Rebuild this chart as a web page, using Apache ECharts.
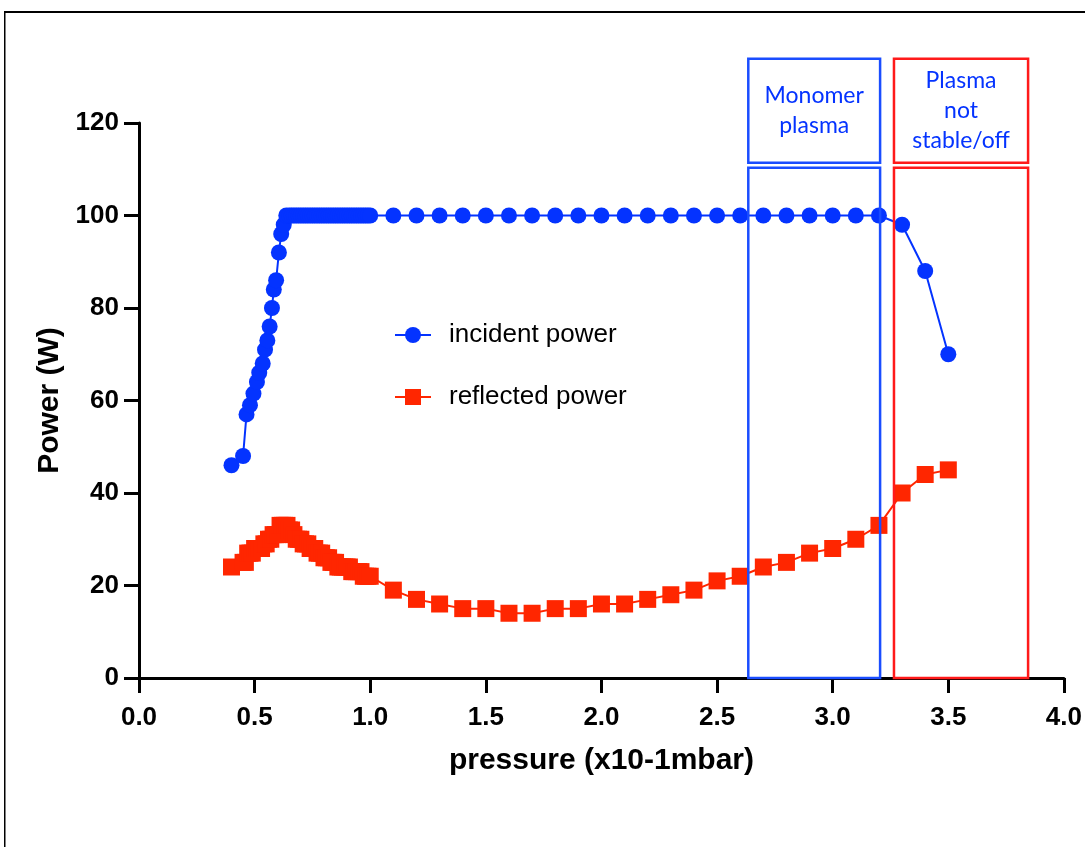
<!DOCTYPE html>
<html>
<head>
<meta charset="utf-8">
<script src="https://cdn.jsdelivr.net/npm/echarts@6/dist/echarts.min.js"></script>
<style>
  html, body { margin: 0; padding: 0; background: #ffffff; }
  #chart { width: 1085px; height: 847px; }
</style>
</head>
<body>
<div id="chart"></div>
<script>
// Incident power (W) vs chamber pressure (x10^-1 mbar)
const incidentPressure = [
  0.40, 0.45, 0.465, 0.48, 0.495, 0.51, 0.52, 0.535, 0.545, 0.555, 0.565, 0.575, 0.583, 0.593,
  0.605, 0.615, 0.626, 0.637, 0.65, 0.66, 0.67, 0.68, 0.69, 0.70, 0.71, 0.72, 0.73, 0.74,
  0.75, 0.76, 0.77, 0.78, 0.79, 0.80, 0.81, 0.82, 0.83, 0.84, 0.85, 0.86, 0.87, 0.88,
  0.89, 0.90, 0.91, 0.92, 0.93, 0.94, 0.95, 0.96, 0.97, 0.98, 0.99, 1.00,
  1.1, 1.2, 1.3, 1.4, 1.5, 1.6, 1.7, 1.8, 1.9, 2.0, 2.1, 2.2, 2.3, 2.4, 2.5,
  2.6, 2.7, 2.8, 2.9, 3.0, 3.1, 3.2, 3.3, 3.4, 3.5
];
const incidentPower = [
  46, 48, 57, 59, 61.5, 64, 66, 68, 71, 73, 76, 80, 84, 86,
  92, 96, 98, 100, 100, 100, 100, 100, 100, 100, 100, 100, 100, 100,
  100, 100, 100, 100, 100, 100, 100, 100, 100, 100, 100, 100, 100, 100,
  100, 100, 100, 100, 100, 100, 100, 100, 100, 100, 100, 100,
  100, 100, 100, 100, 100, 100, 100, 100, 100, 100, 100, 100, 100, 100, 100,
  100, 100, 100, 100, 100, 100, 100, 98, 88, 70
];

// Reflected power (W) vs chamber pressure (x10^-1 mbar)
const reflectedPressure = [
  0.40, 0.45, 0.46, 0.47, 0.48, 0.49, 0.50, 0.51, 0.52, 0.53, 0.54, 0.55, 0.56, 0.57,
  0.58, 0.59, 0.60, 0.61, 0.62, 0.63, 0.64, 0.65, 0.66, 0.67, 0.68, 0.69, 0.70, 0.71,
  0.72, 0.73, 0.74, 0.75, 0.76, 0.77, 0.78, 0.79, 0.80, 0.81, 0.82, 0.83, 0.84, 0.85,
  0.86, 0.87, 0.88, 0.89, 0.90, 0.91, 0.92, 0.93, 0.94, 0.95, 0.96, 0.97, 0.98, 0.99, 1.00,
  1.1, 1.2, 1.3, 1.4, 1.5, 1.6, 1.7, 1.8, 1.9, 2.0, 2.1, 2.2, 2.3, 2.4, 2.5,
  2.6, 2.7, 2.8, 2.9, 3.0, 3.1, 3.2, 3.3, 3.4, 3.5
];
const reflectedPower = [
  24, 25, 25, 27, 27, 27, 28, 28, 28, 28, 29, 29, 30, 30,
  31, 31, 31, 33, 33, 33, 33, 32, 32, 31, 30, 30, 30, 29,
  29, 29, 28, 28, 28, 27, 27, 27, 26, 26, 26, 25, 25, 25,
  24, 24, 24, 24, 24, 24, 23, 23, 23, 23, 23, 22, 22, 22, 22,
  19, 17, 16, 15, 15, 14, 14, 15, 15, 16, 16, 17, 18, 19, 21,
  22, 24, 25, 27, 28, 30, 33, 40, 44, 45
];

// Pressure ranges of the two operating regimes
const regimeNames = ['Monomer\nplasma', 'Plasma\nnot\nstable/off'];
const regimeFrom = [2.635, 3.265];
const regimeTo = [3.205, 3.845];

const BLUE = '#0433ff';
const RED = '#ff2600';
const regimeColors = ['#1a4dff', '#ff1a1a'];

const pairs = (xs, ys) => xs.map((x, i) => [x, ys[i]]);

const chart = echarts.init(document.getElementById('chart'), null, { renderer: 'canvas' });

const axisCommon = {
  axisLine: { show: true, lineStyle: { color: '#000', width: 3 } },
  axisTick: { show: true, length: 15, lineStyle: { color: '#000', width: 3 } },
  splitLine: { show: false },
  nameTextStyle: { fontFamily: 'Liberation Sans', fontWeight: 'bold', fontSize: 30, color: '#000' }
};

chart.setOption({
  backgroundColor: '#ffffff',
  animation: false,
  grid: { left: 139, right: 16, top: 123, bottom: 169, containLabel: false },
  legend: {
    orient: 'vertical',
    left: 389,
    top: 317,
    itemWidth: 36,
    itemHeight: 20,
    itemGap: 36,
    textStyle: {
      fontFamily: 'Liberation Sans', fontSize: 26, color: '#000',
      padding: [0, 0, 0, 13], lineHeight: 20
    },
    data: ['incident power', 'reflected power']
  },
  xAxis: Object.assign({}, axisCommon, {
    type: 'value',
    min: 0, max: 4, interval: 0.5,
    name: 'pressure (x10-1mbar)',
    nameLocation: 'middle',
    nameGap: 68,
    axisLabel: {
      margin: 27, fontFamily: 'Liberation Sans', fontWeight: 'bold', fontSize: 26, color: '#000',
      formatter: v => v.toFixed(1)
    }
  }),
  yAxis: Object.assign({}, axisCommon, {
    type: 'value',
    min: 0, max: 120, interval: 20,
    name: 'Power (W)',
    nameLocation: 'middle',
    nameGap: 66,
    axisLabel: {
      margin: 20, fontFamily: 'Liberation Sans', fontWeight: 'bold', fontSize: 26, color: '#000'
    }
  }),
  series: [
    {
      name: 'incident power',
      type: 'line',
      data: pairs(incidentPressure, incidentPower),
      symbol: 'circle',
      symbolSize: 16,
      color: BLUE,
      lineStyle: { color: BLUE, width: 2 },
      itemStyle: { color: BLUE },
      z: 3
    },
    {
      name: 'reflected power',
      type: 'line',
      data: pairs(reflectedPressure, reflectedPower),
      symbol: 'rect',
      symbolSize: 17,
      color: RED,
      lineStyle: { color: RED, width: 2 },
      itemStyle: { color: RED },
      z: 2
    }
  ]
});

// Regime boxes: a header box holding the label above a tall box spanning the plot height
const graphics = [
  { type: 'line', shape: { x1: 4, y1: 12, x2: 1085, y2: 12 }, style: { stroke: '#000', lineWidth: 2 }, silent: true },
  { type: 'line', shape: { x1: 4.75, y1: 12, x2: 4.75, y2: 847 }, style: { stroke: '#000', lineWidth: 1.5 }, silent: true }
];
regimeNames.forEach((label, i) => {
  const [xl, yBase] = chart.convertToPixel({ gridIndex: 0 }, [regimeFrom[i], 0]);
  const [xr, yBodyTop] = chart.convertToPixel({ gridIndex: 0 }, [regimeTo[i], 110.3]);
  const yHeadBottom = chart.convertToPixel({ gridIndex: 0 }, [0, 111.4])[1];
  const yHeadTop = chart.convertToPixel({ gridIndex: 0 }, [0, 133.9])[1];
  const stroke = regimeColors[i];
  graphics.push({
    type: 'rect', silent: true, z: 10,
    shape: { x: xl, y: yBodyTop, width: xr - xl, height: yBase - yBodyTop },
    style: { fill: 'none', stroke: stroke, lineWidth: 2.5 }
  });
  graphics.push({
    type: 'rect', silent: true, z: 10,
    shape: { x: xl, y: yHeadTop, width: xr - xl, height: yHeadBottom - yHeadTop },
    style: { fill: 'none', stroke: stroke, lineWidth: 2.5 }
  });
  graphics.push({
    type: 'text', silent: true, z: 11,
    x: (xl + xr) / 2, y: (yHeadTop + yHeadBottom) / 2,
    style: {
      text: label, fill: BLUE, font: '23px Lato', lineHeight: 30,
      align: 'center', verticalAlign: 'middle'
    }
  });
});
chart.setOption({ graphic: graphics });
</script>
</body>
</html>
